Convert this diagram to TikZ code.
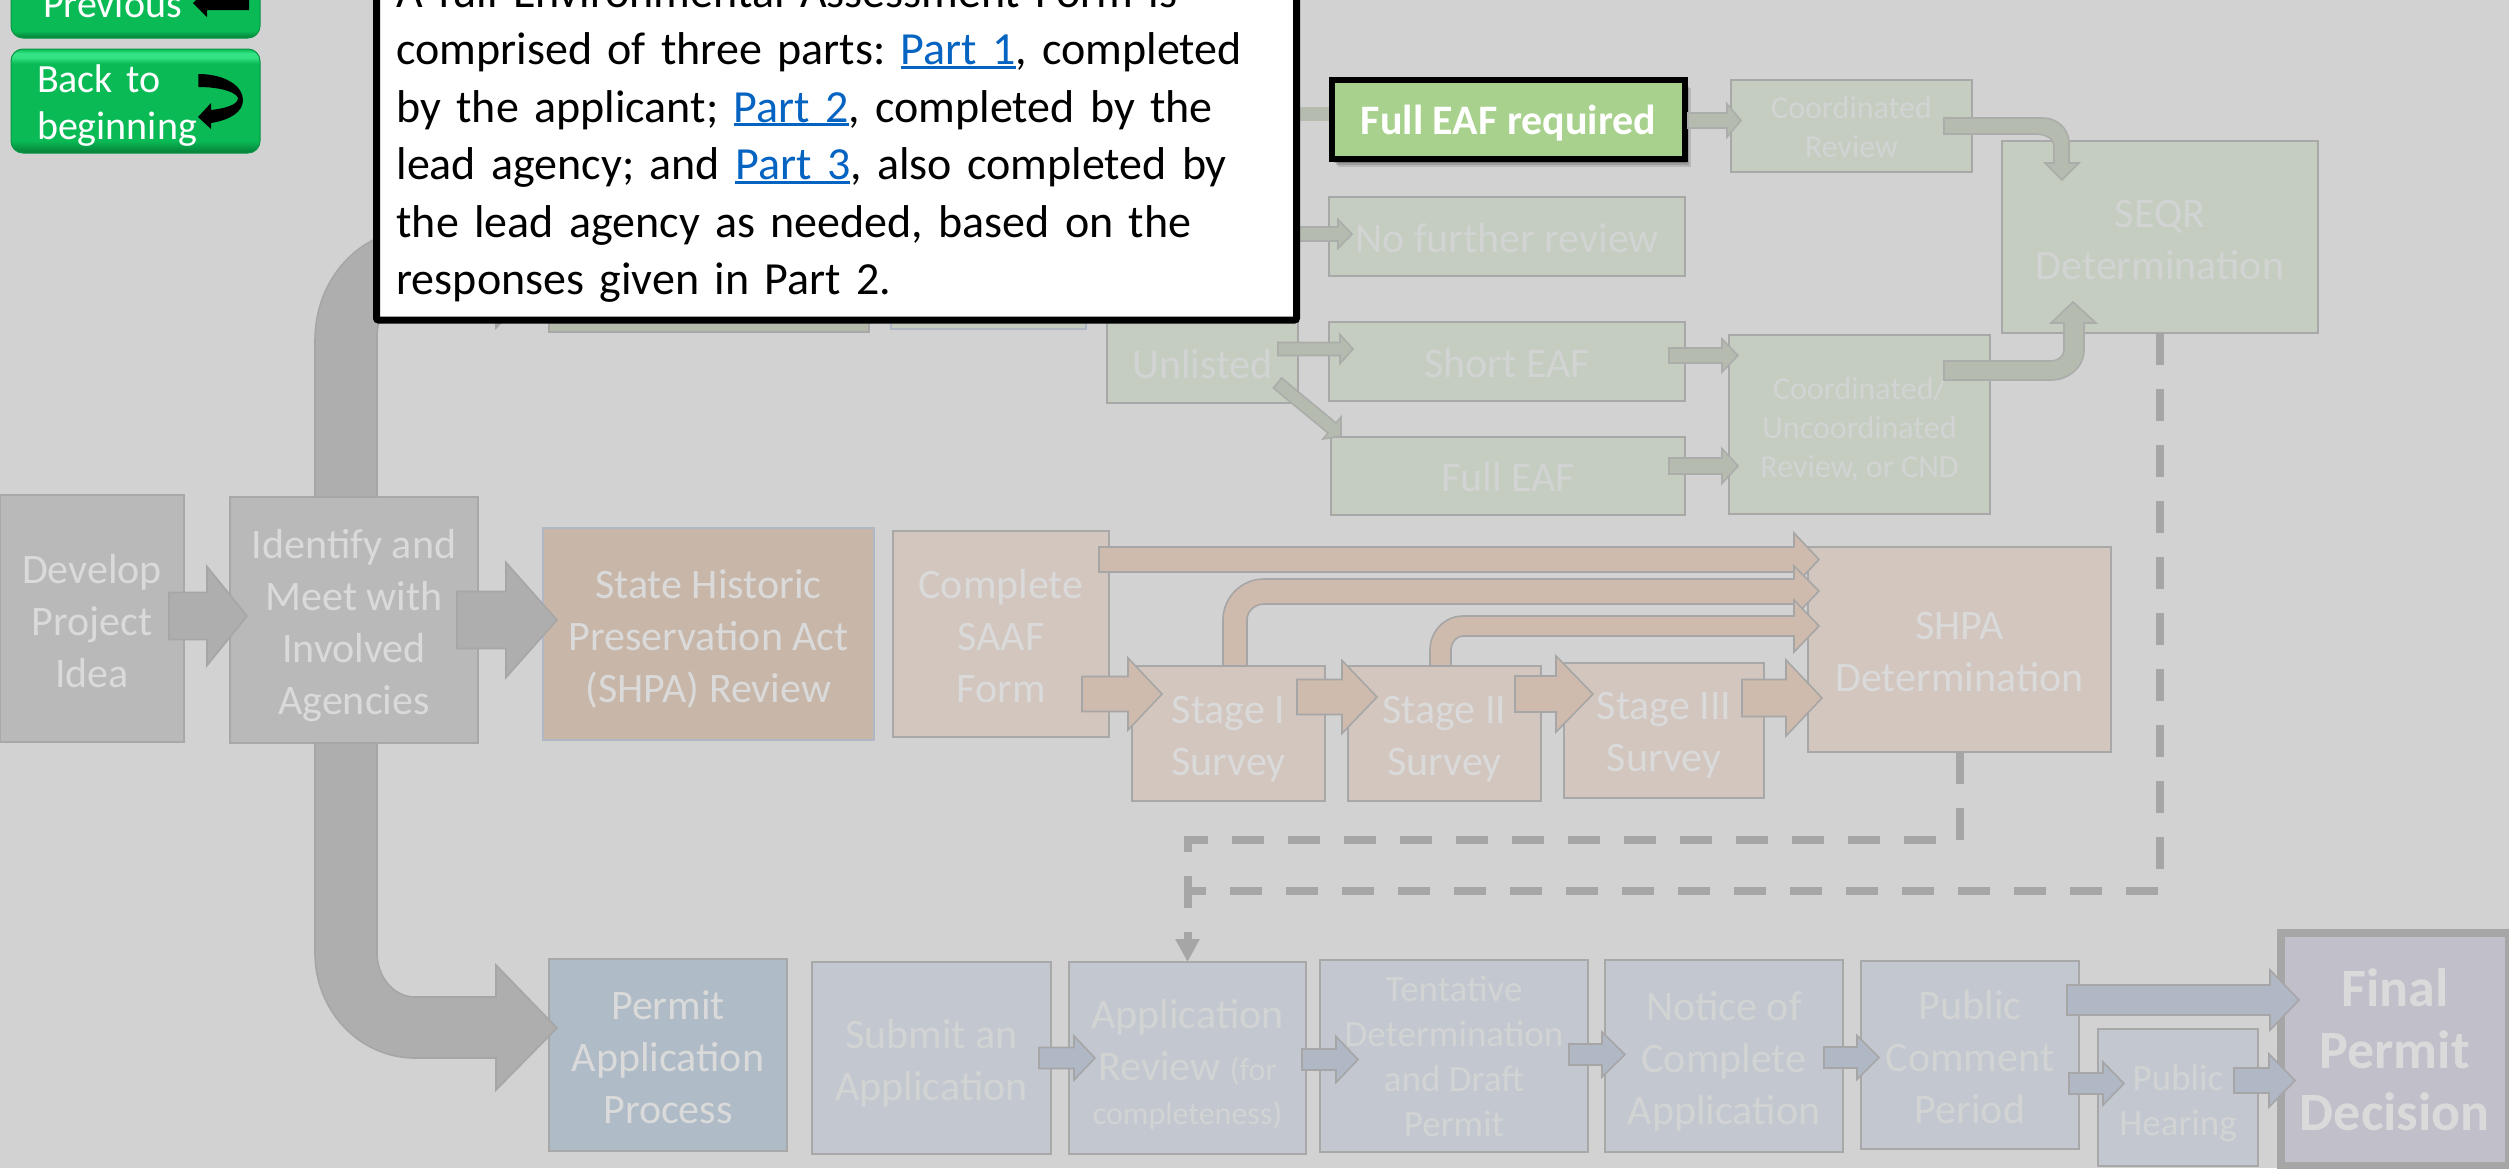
\documentclass[tikz,border=0pt]{standalone}
\usepackage{fontspec}
\setmainfont{Carlito}
\usetikzlibrary{calc,arrows.meta,shadows}
\definecolor{bgc}{HTML}{D2D2D2}
\definecolor{edge}{HTML}{A8A8A8}
\definecolor{dashc}{HTML}{A6A6A6}
\definecolor{greyfill}{HTML}{B9B9B9}
\definecolor{greyarrow}{HTML}{AEAEAE}
\definecolor{brownfill}{HTML}{C8B6A8}
\definecolor{brownlight}{HTML}{D2C6BF}
\definecolor{brownarrow}{HTML}{CFBBAD}
\definecolor{greenfill}{HTML}{C5CDC1}
\definecolor{greendark}{HTML}{B5BBAA}
\definecolor{greenarrow}{HTML}{B5BCAF}
\definecolor{bluefill}{HTML}{AFBBC6}
\definecolor{bluelight}{HTML}{C3C8D0}
\definecolor{bluearrow}{HTML}{B0B8C5}
\definecolor{finalfill}{HTML}{C0BFCA}
\definecolor{txtc}{HTML}{DADADA}
\definecolor{txtl}{HTML}{D2D4D4}
\definecolor{linkc}{HTML}{0563C1}
\definecolor{eafgreen}{HTML}{A9D18E}
\definecolor{btnbody}{HTML}{0ABB55}
\definecolor{btndark}{HTML}{067E38}
\definecolor{btnhigh}{HTML}{34E384}
\pgfdeclareverticalshading{btnshade}{100bp}{color(0bp)=(btndark); color(25bp)=(btndark); color(31bp)=(btnbody); color(68bp)=(btnbody); color(71bp)=(btnhigh); color(73bp)=(btnhigh); color(75bp)=(btnbody); color(100bp)=(btnbody)}
\newcommand\firstrule{\rule{0pt}{\dimexpr \boxdep pt+\boxoff pt\relax}}
\newcommand\lastrule{\rule[-\boxdep pt]{0pt}{\boxdep pt}}
\newcommand\bx[7][]{%
  \pgfmathsetmacro\bxw{(#5-#3)*0.5}%
  \pgfmathsetmacro\bxh{(#6-#4)*0.5}%
  \node[boxbase,#1,minimum width=\bxw pt,minimum height=\bxh pt] (#2) at ({(#3+#5)/2},{(#4+#6)/2}) {\firstrule\frenchspacing #7\lastrule};}
% style, source anchor, dx, dy, target anchor, dx of tip, shaft half, head half, head length (all in px)
\newcommand\harrow[9][]{%
  \draw[#1] let \p1=($(#2)+(#3,#4)$), \p2=($(#5)+(#6,0)$) in
    (\x1,{\y1+#7*0.5pt}) -- ({\x2-#9*0.5pt},{\y1+#7*0.5pt}) -- ({\x2-#9*0.5pt},{\y1+#8*0.5pt}) -- (\x2,\y1)
    -- ({\x2-#9*0.5pt},{\y1-#8*0.5pt}) -- ({\x2-#9*0.5pt},{\y1-#7*0.5pt}) -- (\x1,{\y1-#7*0.5pt}) -- cycle;}
\newcommand\plink[1]{\setbox0\hbox{#1}\rlap{\color{linkc}\rule[-2pt]{\wd0}{1.5pt}}{\color{linkc}#1}}
\tikzset{
  x=0.5pt,y=-0.5pt,
  toff/.store in=\boxoff,
  tdep/.store in=\boxdep,
  boxbase/.style={draw=edge,line width=1.3pt,outer sep=0pt,inner sep=0pt,align=center,text=txtl,font=\fontsize{21}{26}\selectfont,toff=14,tdep=8},
  greybox/.style={fill=greyfill,text=txtc},
  brownbox/.style={fill=brownfill,text=txtc,draw=#1},
  brownbox/.default=edge,
  tanbox/.style={fill=brownlight,text=txtc},
  greenbox/.style={fill=greenfill},
  bluedark/.style={fill=bluefill,text=txtc},
  bluebox/.style={fill=bluelight},
  smalltxt/.style={font=\fontsize{16}{19.5}\selectfont,tdep=4},
  midtxt/.style={font=\fontsize{18.5}{22.5}\selectfont,tdep=5},
  greyarr/.style={fill=greyarrow,draw=dashc,line width=0.8pt,line join=miter},
  brownarr/.style={fill=brownarrow,draw=dashc,line width=0.8pt},
  greenarr/.style={fill=greenarrow,draw=dashc!70!greenarrow,line width=0.8pt},
  bluearr/.style={fill=bluearrow,draw=dashc,line width=0.8pt},
  dashline/.style={draw=dashc,line width=4pt,dash pattern=on 16pt off 12pt},
  btn/.style={boxbase,draw=btndark!60!btnbody,line width=0.5pt,rounded corners=6pt,shading=btnshade,text=white,align=left,font=\fontsize{20}{23.5}\selectfont,tdep=5.5},
}
\begin{document}
\begin{tikzpicture}
\useasboundingbox (0,0) rectangle (2509,1168);
\clip (0,0) rectangle (2509,1168);
\fill[bgc] (0,0) rectangle (2509,1168);
% buttons
\bx[btn,toff=9,text width=92.5pt]{prevbtn}{11}{-22}{260}{38}{Previous}
\bx[btn,toff=15,text width=98.5pt]{backbtn}{11}{49}{260}{153}{Back to\\beginning}
\fill[black] (193,3) -- (207,17) -- (207,10) -- (249,10) -- (249,-10) -- (207,-10) -- (207,-10) -- cycle;
\fill[black] (198.3,74) .. controls (225,74) and (243,86) .. (243,100) .. controls (243,112) and (230,120) .. (211,123) -- (211,129) -- (198,117) -- (211,103) -- (211,110) .. controls (228,108) and (238,104) .. (238,98) .. controls (236,92) and (220,87) .. (198.3,87) -- cycle;
% first column
\bx[greybox,toff=17]{dev}{0}{495}{184}{742}{Develop\\Project\\Idea}
\bx[greybox,toff=16]{ident}{230}{497}{478}{743}{Identify and\\Meet with\\Involved\\Agencies}
% boxes hidden behind the call-out but for their lower edges
\bx[fill=greendark]{seqrrev}{549}{180}{869}{332}{}
\bx[fill=greenfill,draw=bluearrow]{lists}{891}{190}{1086}{329}{}
\coordinate (typei) at (1250,114);
\coordinate (typeii) at (1280,234);
% SEQR row
\bx[greenbox,toff=16]{unlisted}{1107}{321}{1298}{403}{Unlisted}
\bx[greenbox,toff=16]{noreview}{1329}{197}{1685}{276}{No further review}
\bx[greenbox,toff=16]{shorteaf}{1329}{322}{1685}{401}{Short EAF}
\bx[greenbox,toff=15]{fulleaf}{1331}{437}{1685}{515}{Full EAF}
\bx[greenbox,smalltxt,toff=12]{coordrev}{1731}{80}{1972}{172}{Coordinated\\Review}
\bx[greenbox,smalltxt,toff=13.5]{coordunc}{1729}{335}{1990}{514}{Coordinated/\\Uncoordinated\\Review, or CND}
\bx[greenbox,toff=16]{seqr}{2002}{141}{2318}{333}{SEQR\\Determination}
% SHPA row
\bx[brownbox=bluearrow,toff=16]{shpa}{543}{528}{874}{740}{State Historic\\Preservation Act\\(SHPA) Review}
\bx[tanbox,toff=16]{saaf}{893}{531}{1109}{737}{Complete\\SAAF\\Form}
\bx[tanbox,toff=16]{st1}{1132}{666}{1325}{801}{Stage I\\Survey}
\bx[tanbox,toff=16]{st2}{1348}{666}{1541}{801}{Stage II\\Survey}
\bx[tanbox,toff=15]{st3}{1564}{663}{1764}{798}{Stage III\\Survey}
\bx[tanbox,toff=16]{shpad}{1808}{547}{2111}{752}{SHPA\\Determination}
% permit row
\bx[bluedark,toff=16]{permit}{549}{959}{787}{1151}{Permit\\Application\\Process}
\bx[bluebox,toff=16.5]{submit}{812}{962}{1051}{1154}{Submit an\\Application}
\bx[bluebox,toff=18]{appreview}{1069}{962}{1306}{1154}{Application\\Review {\fontsize{16}{19}\selectfont (for}\\[-4pt]{\fontsize{16}{19}\selectfont completeness)}}
\bx[bluebox,midtxt,toff=13]{tentative}{1320}{960}{1588}{1152}{Tentative\\Determination\\and Draft\\Permit}
\bx[bluebox,toff=16]{notice}{1605}{960}{1843}{1152}{Notice of\\Complete\\Application}
\bx[bluebox,toff=16]{comment}{1861}{961}{2079}{1149}{Public\\Comment\\Period}
\bx[bluebox,midtxt,toff=15.5]{hearing}{2098}{1029}{2258}{1166}{Public\\Hearing}
\bx[fill=finalfill,draw=dashc,line width=4pt,text=txtc,font=\fontsize{27}{31}\selectfont\bfseries,toff=18.5]{final}{2281}{933}{2508.5}{1166}{Final\\Permit\\Decision}
% grey arrows
\harrow[greyarr]{dev.east}{-15}{-2.5}{ident.west}{17}{23.5}{49.5}{40}
\harrow[greyarr]{ident.east}{-21}{0}{shpa.west}{14}{28.5}{57.5}{51}
\draw[greyarr] ($(ident.north)+(-39,0)$) -- ++(0,-157) arc[start angle=180,end angle=270,x radius=100,y radius=110] -- ++(81,0) -- ++(0,-34) -- ($(seqrrev.west)+(8,6)$) -- ++(-61,66) -- ++(0,-36) -- ++(-81,0) arc[start angle=270,end angle=180,x radius=38,y radius=44] -- ($(ident.north)+(23,0)$) -- cycle;
\draw[greyarr] ($(ident.south)+(-39,0)$) -- ++(0,210) arc[start angle=180,end angle=90,x radius=100,y radius=105] -- ++(81,0) -- ++(0,32) -- ($(permit.west)+(8,-27)$) -- ++(-61,-63) -- ++(0,32) -- ++(-81,0) arc[start angle=90,end angle=180,x radius=38,y radius=44] -- ($(ident.south)+(23,0)$) -- cycle;
% brown arrows
\harrow[brownarr]{saaf.east}{-27}{60}{st1.west}{30}{17.5}{36}{34}
\harrow[brownarr]{st1.east}{-28}{-36.5}{st2.west}{29}{17.5}{36.5}{35}
\harrow[brownarr]{st2.east}{-26}{-39.5}{st3.west}{29}{18}{38}{37}
\harrow[brownarr]{st3.east}{-22}{-32.5}{shpad.west}{14}{18.5}{38}{36}
\harrow[brownarr]{saaf.east}{-10}{-74.5}{shpad.west}{11}{12.5}{26.5}{25}
\draw[brownarr] ($(st1.north)+(-5.5,0)$) -- ++(0,-46) arc[start angle=180,end angle=270,x radius=41,y radius=41] -- ++(530,0) -- ++(0,-13) -- ($(shpad.west)+(11,-58.5)$) -- ++(-25,26) -- ++(0,-13) -- ++(-530,0) arc[start angle=270,end angle=180,x radius=17,y radius=16] -- ($(st1.north)+(18.5,0)$) -- cycle;
\draw[brownarr] ($(st2.north)+(-14.5,0)$) -- ++(0,-16) arc[start angle=180,end angle=270,x radius=33,y radius=34] -- ++(331,0) -- ++(0,-16) -- ($(shpad.west)+(11,-23.5)$) -- ++(-25,26) -- ++(0,-16) -- ++(-331,0) arc[start angle=270,end angle=180,x radius=12,y radius=14] -- ($(st2.north)+(6.5,0)$) -- cycle;
% green arrows
\draw[greenarrow,line width=7pt] (typei) -- (noreview.north west |- typei);
\harrow[greenarr]{typeii}{0}{0}{noreview.west}{23}{7}{14.5}{14}
\harrow[greenarr]{unlisted.east}{-20}{-13}{shorteaf.west}{24}{6.5}{14.5}{13}
\draw[greenarr] ($(unlisted.east)+(-16.4,16)$) -- ++(54.4,45) -- ++(5,-6) -- ($(fulleaf.north west)+(10,-1)$) -- ++(-18,3) -- ++(5,-6) -- ++(-54.6,-45) -- cycle;
\harrow[greenarr]{shorteaf.east}{-16}{-6}{coordunc.west}{9}{7.5}{16.5}{16}
\harrow[greenarr]{fulleaf.east}{-16}{-10}{coordunc.west}{9}{8}{17.5}{16}
\draw[greenarr] ($(coordrev.east)+(-28,-8)$) -- ++(99,0) arc[start angle=-90,end angle=0,x radius=26,y radius=25] -- ++(0,20) -- ++(10,0) -- ($(seqr.north)+(-98,39)$) -- ++(-17,-17) -- ++(9,0) -- ++(0,-18) arc[start angle=0,end angle=-90,x radius=19,y radius=11] -- ($(coordrev.east)+(-28,8)$) -- cycle;
\draw[greenarr] ($(coordunc.east)+(-46,-44.5)$) -- ++(107,0) arc[start angle=90,end angle=0,x radius=33,y radius=30] -- ++(0,-27) -- ++(12,0) -- ($(seqr.south)+(-87,-31)$) -- ++(-22,21) -- ++(13,0) -- ++(0,27) arc[start angle=0,end angle=90,x radius=13,y radius=11] -- ($(coordunc.east)+(-46,-63.5)$) -- cycle;
% blue arrows
\harrow[bluearr]{submit.east}{-12}{0}{appreview.west}{26}{10.5}{22}{21}
\harrow[bluearr]{appreview.east}{-4}{1.5}{tentative.west}{38}{10.5}{23}{22}
\harrow[bluearr]{tentative.east}{-19}{-1.5}{notice.west}{20}{10.5}{22.5}{23}
\harrow[bluearr]{notice.east}{-19}{1.5}{comment.west}{18}{10.5}{22}{22}
\harrow[bluearr]{comment.east}{-12}{-55}{final.west}{18}{15}{30}{29}
\harrow[bluearr]{comment.east}{-10}{28.5}{hearing.west}{26}{10.5}{21.5}{21}
\harrow[bluearr]{hearing.east}{-24}{-17}{final.west}{14}{12.5}{26.5}{26}
% dashed connectors
\draw[dashline] (seqr.south) |- ($(appreview.north)+(0,-71)$);
\draw[dashline,-{Triangle[length=11.5pt,width=11.5pt]}] (shpad.south) |- ($(appreview.north)+(0,-122)$) -- (appreview.north);
% highlighted box
\bx[fill=eafgreen,draw=black,line width=3pt,text=white,font=\fontsize{21}{26}\selectfont\bfseries,toff=15,general shadow={fill=black,opacity=.12,shadow xshift=3pt,shadow yshift=-4pt},general shadow={fill=black,opacity=.15,shadow xshift=2pt,shadow yshift=-3pt},general shadow={fill=black,opacity=.2,shadow xshift=1pt,shadow yshift=-2pt}]{fullreq}{1332}{80}{1685}{159}{Full EAF required}
\harrow[greenarr]{fullreq.east}{3}{1}{coordrev.west}{10}{7.5}{16.5}{14}
% call-out
\node[draw=black,fill=white,line width=3.5pt,anchor=south west,inner xsep=10pt,inner ysep=8.7pt,outer sep=0pt,text width=440pt,align=left,font=\fontsize{23}{28.75}\selectfont\frenchspacing,rounded corners=1pt] (callout) at (376.5,320) {A full Environmental Assessment Form is\\comprised of three parts: \plink{Part 1}, completed\\by the applicant; \plink{Part 2}, completed by the\\lead agency; and \plink{Part 3}, also completed by\\the lead agency as needed, based on the\\responses given in Part 2.};
\end{tikzpicture}
\end{document}
